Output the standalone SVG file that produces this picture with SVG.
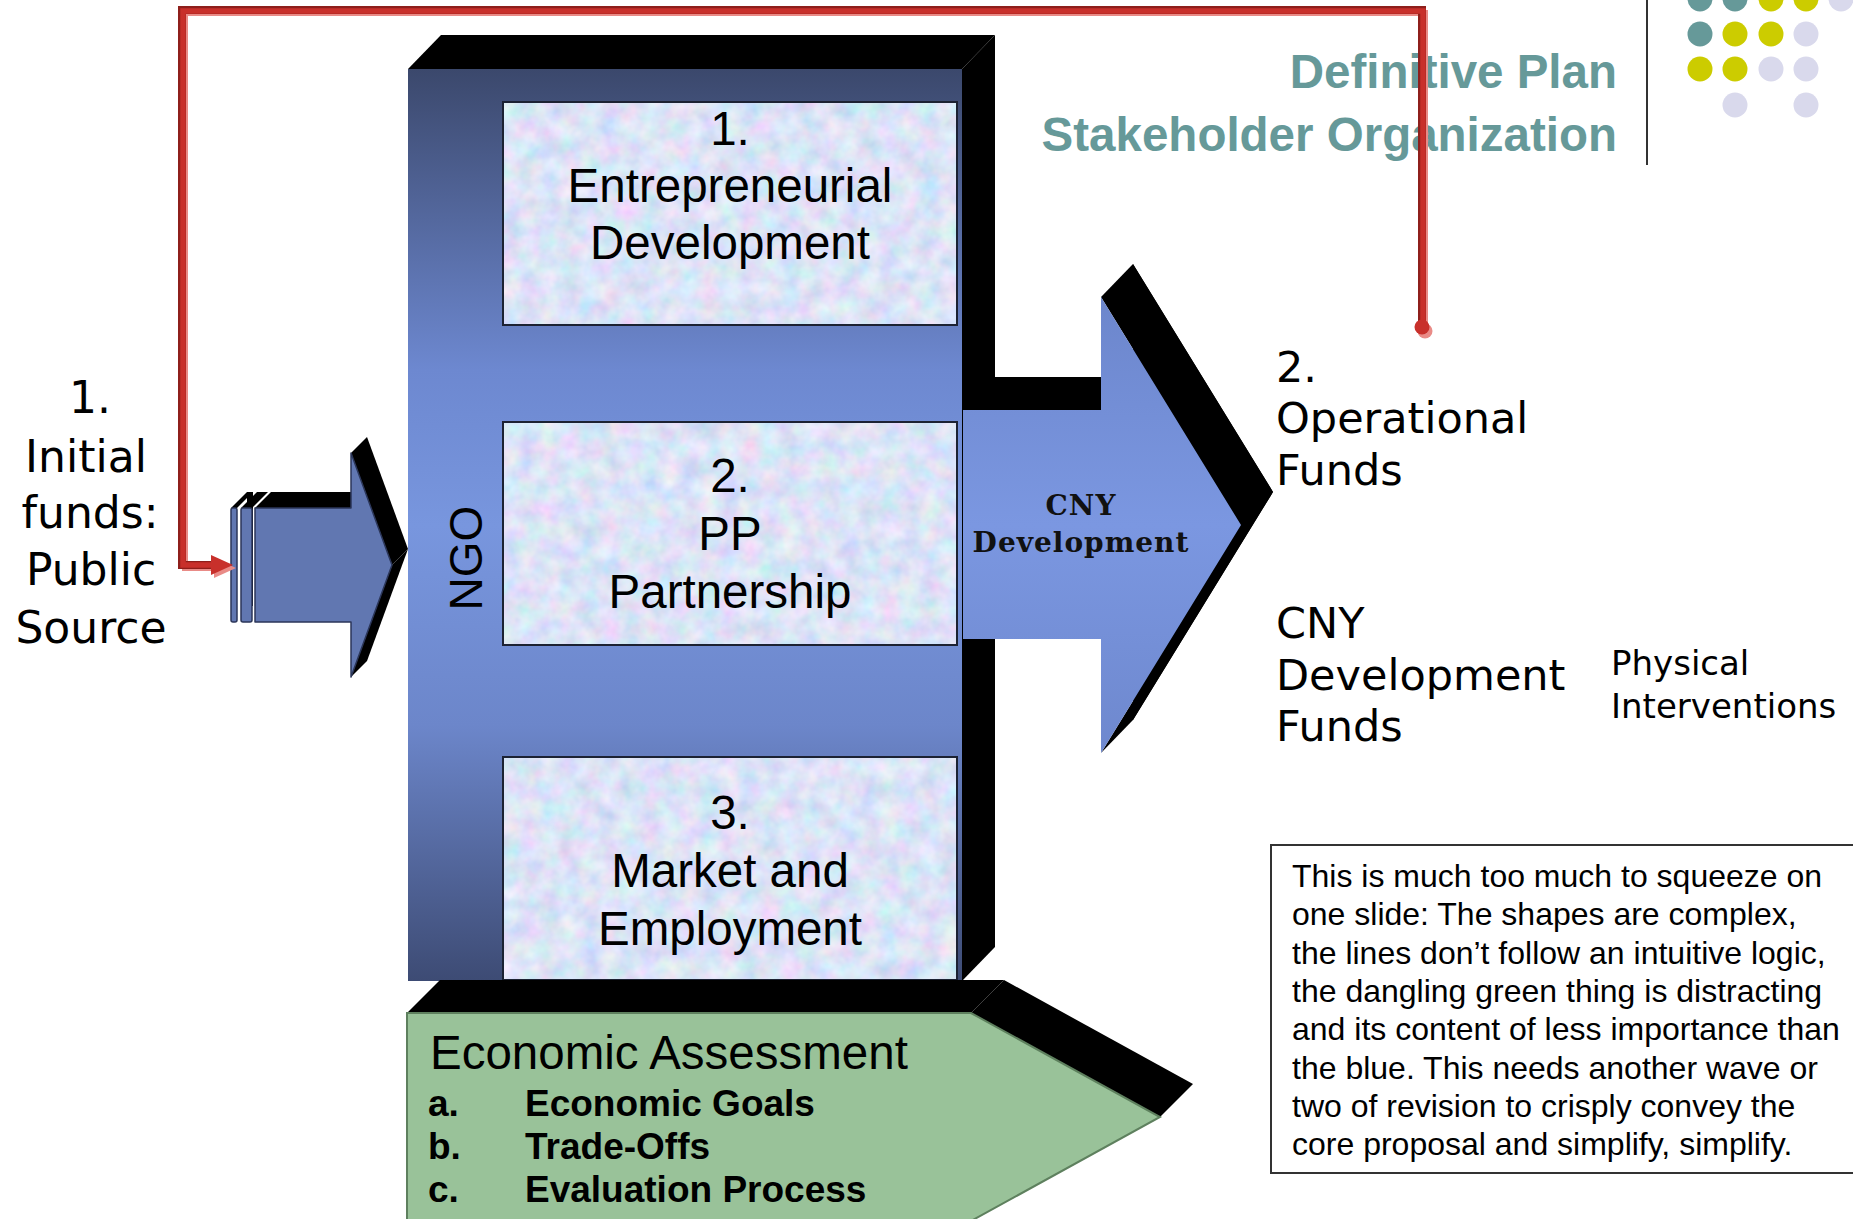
<svg xmlns="http://www.w3.org/2000/svg" width="1853" height="1219" viewBox="0 0 1853 1219">
<defs>
<style>
.ext{fill:#000}
.arial{font-family:"Liberation Sans",Arial,sans-serif}
.goth{font-family:"DejaVu Sans","Liberation Sans",sans-serif;fill:#000}
.boxtxt{font-family:"Liberation Sans",Arial,sans-serif;font-size:47.5px;fill:#000;text-anchor:middle}
.inner{stroke:#1c2233;stroke-width:2;fill:none}
.title{font-family:"Liberation Sans",Arial,sans-serif;font-weight:bold;font-size:47.5px;fill:#669999;text-anchor:end}
.cmt{font-family:"Liberation Sans",Arial,sans-serif;font-size:32px;fill:#000}
.bold{font-weight:bold}
.red{fill:none;stroke-linejoin:miter}
.cny{font-family:"DejaVu Serif","Liberation Serif",serif;font-weight:bold;font-size:28px;letter-spacing:1px;text-anchor:middle;fill:#111}
</style>
<linearGradient id="gNgo" gradientUnits="userSpaceOnUse" x1="0" y1="69" x2="0" y2="981">
<stop offset="0" stop-color="#3B486C"/>
<stop offset="0.33" stop-color="#6D88D0"/>
<stop offset="0.5" stop-color="#7896DE"/>
<stop offset="0.72" stop-color="#6C86CA"/>
<stop offset="1" stop-color="#3D4B74"/>
</linearGradient>
<linearGradient id="gArr" gradientUnits="userSpaceOnUse" x1="0" y1="297" x2="0" y2="753">
<stop offset="0" stop-color="#6C86CC"/>
<stop offset="0.5" stop-color="#7B97E1"/>
<stop offset="1" stop-color="#6E88CE"/>
</linearGradient>
<filter id="tex" x="0" y="0" width="1" height="1" filterUnits="objectBoundingBox">
<feTurbulence type="fractalNoise" baseFrequency="0.05" numOctaves="3" seed="4" result="n"/>
<feColorMatrix in="n" type="matrix" values="0.55 0 0 0 0.44  0 0.4 0 0 0.57  0 0 0.25 0 0.8  0 0 0 0 1" result="c"/>
<feComposite in="c" in2="SourceGraphic" operator="in"/>
</filter>
</defs>
<rect x="0" y="0" width="1853" height="1219" fill="#fff"/>

<g id="title">
<text class="title" x="1617" y="88">Definitive Plan</text>
<text class="title" x="1617" y="151">Stakeholder Organization</text>
<line x1="1647" y1="0" x2="1647" y2="165" stroke="#333" stroke-width="2"/>
</g>

<g id="dots">
<circle cx="1700" cy="-1" r="12.5" fill="#669999"/>
<circle cx="1735" cy="-1" r="12.5" fill="#669999"/>
<circle cx="1771" cy="-1" r="12.5" fill="#CCCC00"/>
<circle cx="1806" cy="-1" r="12.5" fill="#CCCC00"/>
<circle cx="1841" cy="-1" r="12.5" fill="#D9D9EC"/>
<circle cx="1700" cy="34" r="12.5" fill="#669999"/>
<circle cx="1735" cy="34" r="12.5" fill="#CCCC00"/>
<circle cx="1771" cy="34" r="12.5" fill="#CCCC00"/>
<circle cx="1806" cy="34" r="12.5" fill="#D9D9EC"/>
<circle cx="1700" cy="69" r="12.5" fill="#CCCC00"/>
<circle cx="1735" cy="69" r="12.5" fill="#CCCC00"/>
<circle cx="1771" cy="69" r="12.5" fill="#D9D9EC"/>
<circle cx="1806" cy="69" r="12.5" fill="#D9D9EC"/>
<circle cx="1735" cy="105" r="12.5" fill="#D9D9EC"/>
<circle cx="1806" cy="105" r="12.5" fill="#D9D9EC"/>
</g>

<g id="ngo">
<polygon class="ext" points="408,69 962,69 995,35 441,35"/>
<polygon class="ext" points="962,69 995,35 995,947 962,981"/>
<rect x="408" y="69" width="554" height="912" fill="url(#gNgo)"/>
<text class="arial" transform="translate(482,558) rotate(-90)" font-size="46" text-anchor="middle" fill="#000">NGO</text>
</g>

<g id="cny-arrow">
<polygon class="ext" points="995,377 1133,377 1133,264 1273,492 1133,720 1133,606 995,606"/>
<polygon class="ext" points="963,410 1101,410 1133,377 995,377"/>
<polygon class="ext" points="1101,297 1241,525 1273,492 1133,264"/>
<polygon class="ext" points="1241,525 1101,753 1133,720 1273,492"/>
<polygon points="963,410 1101,410 1101,297 1241,525 1101,753 1101,639 963,639" fill="url(#gArr)"/>
<text class="cny" x="1081" y="515">CNY</text>
<text class="cny" x="1081" y="552">Development</text>
</g>

<g id="box1">
<rect x="503" y="102" width="454" height="223" fill="#c5d4f0" filter="url(#tex)"/>
<rect class="inner" x="503" y="102" width="454" height="223"/>
<text class="boxtxt" x="730" y="145">1.</text>
<text class="boxtxt" x="730" y="202">Entrepreneurial</text>
<text class="boxtxt" x="730" y="259">Development</text>
</g>

<g id="box2">
<rect x="503" y="422" width="454" height="223" fill="#c5d4f0" filter="url(#tex)"/>
<rect class="inner" x="503" y="422" width="454" height="223"/>
<text class="boxtxt" x="730" y="492">2.</text>
<text class="boxtxt" x="730" y="550">PP</text>
<text class="boxtxt" x="730" y="608">Partnership</text>
</g>

<g id="box3">
<rect x="503" y="757" width="454" height="223" fill="#c5d4f0" filter="url(#tex)"/>
<rect class="inner" x="503" y="757" width="454" height="223"/>
<text class="boxtxt" x="730" y="829">3.</text>
<text class="boxtxt" x="730" y="887">Market and</text>
<text class="boxtxt" x="730" y="945">Employment</text>
</g>

<g id="input-arrow">
<polygon class="ext" points="247,492 253,492 253,606 247,606"/>
<polygon class="ext" points="231,508 237,508 253,492 247,492"/>
<polygon class="ext" points="241,508 252,508 268,492 257,492"/>
<polygon class="ext" points="255,508 351,508 367,492 271,492"/>
<polygon class="ext" points="351,453 392,565 408,549 367,437"/>
<polygon class="ext" points="392,565 351,677 367,661 408,549"/>
<rect x="231" y="508" width="6" height="114" rx="2" fill="#6177B1" stroke="#2B3659" stroke-width="1.5"/>
<rect x="241" y="508" width="11" height="114" rx="2" fill="#6177B1" stroke="#2B3659" stroke-width="1.5"/>
<polygon points="255,508 351,508 351,453 392,565 351,677 351,622 255,622" fill="#6177B1" stroke="#2B3659" stroke-width="1.5" stroke-linejoin="round"/>
</g>

<g id="econ-assessment">
<polygon class="ext" points="407,1013 971,1013 1004,980 440,980"/>
<polygon class="ext" points="971,1013 1160,1117 1193,1084 1004,980"/>
<polygon points="407,1013 971,1013 1160,1117 971,1221 407,1221" fill="#99C299" stroke="#5E805E" stroke-width="2"/>
<text class="arial" x="430" y="1069" font-size="47.5" fill="#000">Economic Assessment</text>
<text class="arial bold" x="428" y="1116" font-size="37" fill="#000">a.</text>
<text class="arial bold" x="525" y="1116" font-size="37" fill="#000">Economic Goals</text>
<text class="arial bold" x="428" y="1159" font-size="37" fill="#000">b.</text>
<text class="arial bold" x="525" y="1159" font-size="37" fill="#000">Trade-Offs</text>
<text class="arial bold" x="428" y="1202" font-size="37" fill="#000">c.</text>
<text class="arial bold" x="525" y="1202" font-size="37" fill="#000">Evaluation Process</text>
</g>

<g id="label-initial-funds">
<text class="goth" font-size="44" text-anchor="middle" x="90" y="413">1.</text>
<text class="goth" font-size="44" text-anchor="middle" x="86" y="472">Initial</text>
<text class="goth" font-size="44" text-anchor="middle" x="90" y="528">funds:</text>
<text class="goth" font-size="44" text-anchor="middle" x="91" y="585">Public</text>
<text class="goth" font-size="44" text-anchor="middle" x="91" y="643">Source</text>
</g>

<g id="label-operational-funds">
<text class="goth" font-size="43" x="1276" y="382">2.</text>
<text class="goth" font-size="43" x="1276" y="433">Operational</text>
<text class="goth" font-size="43" x="1276" y="485">Funds</text>
</g>

<g id="label-cny-funds">
<text class="goth" font-size="43" x="1276" y="638">CNY</text>
<text class="goth" font-size="43" x="1276" y="690">Development</text>
<text class="goth" font-size="43" x="1276" y="741">Funds</text>
</g>

<g id="label-physical">
<text class="goth" font-size="34" x="1611" y="675">Physical</text>
<text class="goth" font-size="34" x="1611" y="718">Interventions</text>
</g>

<g id="comment">
<rect x="1271" y="845" width="600" height="328" fill="#fff" stroke="#333" stroke-width="2"/>
<text class="cmt" x="1292" y="887">This is much too much to squeeze on</text>
<text class="cmt" x="1292" y="925">one slide: The shapes are complex,</text>
<text class="cmt" x="1292" y="964">the lines don’t follow an intuitive logic,</text>
<text class="cmt" x="1292" y="1002">the dangling green thing is distracting</text>
<text class="cmt" x="1292" y="1040">and its content of less importance than</text>
<text class="cmt" x="1292" y="1079">the blue. This needs another wave or</text>
<text class="cmt" x="1292" y="1117">two of revision to crisply convey the</text>
<text class="cmt" x="1292" y="1155">core proposal and simplify, simplify.</text>
</g>

<g id="connectors">
<path class="red" d="M1425,330 V13 H185 V568 H216" stroke="#E98B87" stroke-width="6"/>
<polygon points="214,558 236,568 214,578" fill="#E98B87"/>
<circle cx="1425" cy="331" r="7.5" fill="#E98B87"/>
<path class="red" d="M1422,327 V10 H182 V565 H214" stroke="#8E1F1B" stroke-width="8"/>
<path class="red" d="M1423,327 V11 H183 V565 H214" stroke="#C8302B" stroke-width="5.5"/>
<polygon points="211,555 233,565 211,575" fill="#C8302B"/>
<circle cx="1422" cy="327" r="7.5" fill="#C8302B"/>
</g>
</svg>
